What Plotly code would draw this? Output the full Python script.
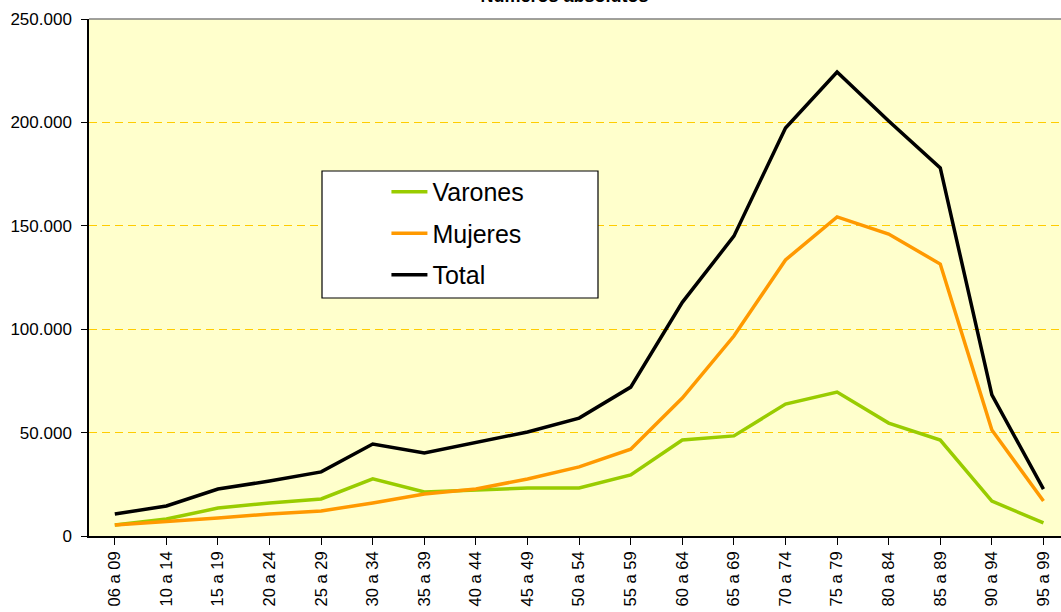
import plotly.graph_objects as go

categorias = ["06 a 09", "10 a 14", "15 a 19", "20 a 24", "25 a 29", "30 a 34",
              "35 a 39", "40 a 44", "45 a 49", "50 a 54", "55 a 59", "60 a 64",
              "65 a 69", "70 a 74", "75 a 79", "80 a 84", "85 a 89", "90 a 94",
              "95 a 99"]
varones = [5300, 8200, 13500, 16000, 17900, 27600, 21300, 22200, 23200, 23200,
           29500, 46400, 48400, 63800, 69600, 54600, 46400, 16900, 6300]
mujeres = [5300, 6800, 8700, 10600, 12100, 16000, 20300, 22700, 27600, 33400,
           42000, 66700, 96700, 133500, 154300, 146000, 131500, 51300, 16900]
total = [10600, 14500, 22700, 26600, 31000, 44500, 40100, 45000, 50300, 57000,
         72000, 113000, 145000, 197300, 224400, 200700, 178000, 68200, 22700]
y_ticks = [0, 50000, 100000, 150000, 200000, 250000]

FONT = "Arial, Liberation Sans, sans-serif"

fig = go.Figure()
series = [("Varones", varones, "#99CC00"), ("Mujeres", mujeres, "#FF9900"),
          ("Total", total, "#000000")]
for name, vals, col in series:
    fig.add_trace(go.Scatter(x=list(range(len(categorias))), y=vals, name=name,
                             mode="lines", legendgroup=name,
                             line=dict(color=col, width=3.5)))

fig.update_layout(
    width=1061, height=612,
    margin=dict(l=89, r=0, t=19, b=76),
    paper_bgcolor="white", plot_bgcolor="#FFFFCC",
    separators=",.",
    font=dict(family=FONT, color="black"),
    title=dict(text="Números absolutos", x=0.532, xanchor="center",
               y=0.996, yanchor="bottom", yref="container",
               font=dict(size=18, family=FONT, color="black", weight="bold")),
    showlegend=True,
    legend=dict(x=0.306, y=0.71, xanchor="left", yanchor="top",
                bgcolor="rgba(0,0,0,0)", borderwidth=0,
                font=dict(size=25, family=FONT), tracegroupgap=6,
                itemwidth=36),
    xaxis=dict(
        range=[-0.5, 18.34], tickmode="array",
        tickvals=list(range(len(categorias))), ticktext=categorias,
        tickson="boundaries", ticks="outside", ticklen=7, tickcolor="black",
        tickangle=-90, tickfont=dict(size=16.5, family=FONT),
        showline=True, linecolor="black", linewidth=1.5,
        showgrid=False, zeroline=False, automargin=False, fixedrange=True),
    yaxis=dict(
        range=[0, 250000], tickmode="array", tickvals=y_ticks,
        tickformat=",d", ticks="outside", ticklen=6, tickcolor="black",
        tickfont=dict(size=17, family=FONT), ticklabelstandoff=6,
        showline=True, linecolor="black", linewidth=1.5,
        showgrid=True, gridcolor="#FFCC00", gridwidth=1, griddash="8px,5px",
        zeroline=False, automargin=False, fixedrange=True),
    shapes=[
        dict(type="line", xref="paper", yref="paper", x0=0, x1=1, y0=1, y1=1,
             line=dict(color="#808080", width=1.5), layer="above"),
        dict(type="rect", xref="paper", yref="paper",
             x0=(322 - 89) / 972, x1=(598 - 89) / 972,
             y0=(536 - 298) / 517, y1=(536 - 171) / 517,
             fillcolor="white", line=dict(color="black", width=1.2),
             layer="above"),
    ],
)

fig.write_html("out.html",
               config={"displayModeBar": False},
               post_script="document.body.style.margin='0';"
                           "document.body.style.overflow='hidden';")
